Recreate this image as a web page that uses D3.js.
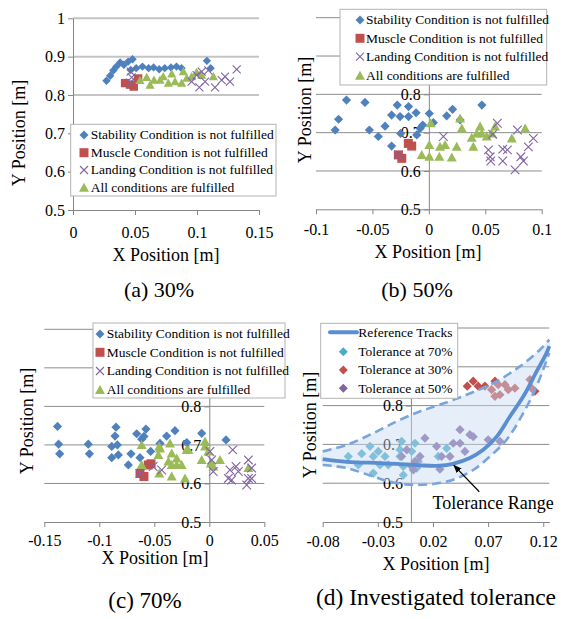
<!DOCTYPE html>
<html>
<head>
<meta charset="utf-8">
<script src="https://cdn.jsdelivr.net/npm/d3@7"></script>
<style>
body{margin:0;background:#fff}
svg{display:block}
svg text{font-family:"Liberation Serif","Times New Roman",serif}
</style>
</head>
<body>
<svg id="fig" width="565" height="619"></svg>
<script>
// ---- data ----
var yTicks=[0.5,0.6,0.7,0.8,0.9,1]
var yTickLabels=["0.5","0.6","0.7","0.8","0.9","1"]
var aTicks=[0,0.05,0.1,0.15], aTickLabels=["0","0.05","0.1","0.15"]
var bTicks=[-0.1,-0.05,0,0.05,0.1], bTickLabels=["-0.1","-0.05","0","0.05","0.1"]
var cTicks=[-0.15,-0.1,-0.05,0,0.05], cTickLabels=["-0.15","-0.1","-0.05","0","0.05"]
var dTicks=[-0.08,-0.03,0.02,0.07,0.12], dTickLabels=["-0.08","-0.03","0.02","0.07","0.12"]

var condLabels=["Stability Condition is not fulfilled","Muscle Condition is not fulfilled","Landing Condition is not fulfilled","All conditions are fulfilled"]
var tolLabels=["Reference Tracks","Tolerance at 70%","Tolerance at 30%","Tolerance at 50%"]
var captions=["(a) 30%","(b) 50%","(c) 70%","(d) Investigated tolerance"]

var a30Stability=[[.027,.837],[.030,.850],[.0325,.864],[.035,.874],[.038,.885],[.041,.879],[.0445,.887],[.048,.893],[.0465,.865],[.051,.870],[.056,.874],[.061,.870],[.065,.872],[.0695,.867],[.074,.870],[.079,.872],[.0835,.874],[.0875,.870],[.108,.889],[.111,.870]]
var a30Muscle=[[.042,.831],[.046,.827],[.049,.822],[.0525,.843]]
var a30Landing=[[.0465,.861],[.0473,.846],[.046,.832],[.0957,.835],[.0997,.852],[.1019,.820],[.1038,.861],[.1065,.835],[.1091,.864],[.1145,.820],[.1199,.839],[.1226,.848],[.1266,.835],[.132,.867]]
var a30Fulfilled=[[.054,.838],[.0594,.846],[.0621,.826],[.0653,.839],[.0702,.839],[.0728,.848],[.0769,.831],[.0796,.855],[.0823,.835],[.0876,.831],[.089,.861],[.0917,.844],[.0957,.848],[.0997,.859],[.1038,.852],[.1132,.848]]

var b50Stability=[[-.083,.707],[-.080,.735],[-.073,.785],[-.0566,.779],[-.0527,.707],[-.0448,.690],[-.0388,.717],[-.033,.746],[-.033,.665],[-.028,.772],[-.0255,.742],[-.025,.698],[-.018,.768],[-.018,.742],[-.0113,.752],[-.0107,.694],[-.0078,.711],[-.0054,.720],[.0004,.750],[.004,.726],[.0158,.744],[.021,.761],[.0277,.733],[.047,.772]]
var b50Muscle=[[-.027,.642],[-.024,.633],[-.0182,.672],[-.0152,.665]]
var b50Landing=[[-.027,.642],[.0129,.690],[.0607,.7245],[.0566,.696],[.0528,.655],[.0543,.637],[.0549,.626],[.0655,.657],[.0696,.655],[.0655,.626],[.0785,.707],[.0882,.663],[.0815,.637],[.0838,.626],[.0764,.603],[.0926,.685]]
var b50Fulfilled=[[.0017,.7245],[-.0063,.642],[.0004,.668],[.0004,.637],[.0099,.663],[.0144,.668],[.0093,.637],[.0247,.663],[.0203,.635],[.0277,.737],[.0292,.711],[.038,.687],[.0394,.663],[.0454,.716],[.0469,.698],[.0425,.698],[.0513,.690],[.0558,.698],[.0587,.716],[.0735,.685],[.0853,.711]]

var c70Stability=[[-.138,.748],[-.137,.702],[-.136,.677],[-.110,.702],[-.109,.677],[-.0887,.667],[-.0887,.696],[-.0857,.723],[-.0848,.746],[-.0836,.700],[-.0827,.674],[-.0736,.648],[-.0712,.677],[-.066,.729],[-.0615,.715],[-.0594,.722],[-.0576,.741],[-.0533,.683],[-.063,.667],[-.0448,.704],[-.0388,.723],[-.0312,.737],[-.0205,.706],[-.0069,.730],[.0152,.713]]
var c70Muscle=[[-.063,.626],[-.0594,.618],[-.0555,.648],[-.053,.651]]
var c70Landing=[[-.063,.626],[-.051,.644],[-.0433,.635],[.0006,.683],[.0022,.661],[.0036,.631],[.0213,.687],[.0188,.635],[.0173,.613],[.0243,.644],[.0264,.631],[.0355,.661],[.0385,.640],[.0355,.613],[.0385,.613],[.034,.596],[.0203,.609]]
var c70Fulfilled=[[-.0615,.700],[-.0615,.648],[-.0455,.626],[-.0455,.696],[-.0448,.691],[-.0463,.674],[-.0342,.678],[-.0357,.704],[-.0372,.657],[-.0296,.665],[-.0342,.648],[-.0342,.618],[-.0297,.648],[-.0221,.613],[-.019,.687],[-.0251,.648],[-.0039,.709],[-.0009,.683],[-.0069,.661],[.0036,.644],[.0013,.652],[.0097,.661],[.0355,.640],[-.0206,.687],[-.0039,.696]]

var dTrack=[[-.08,.662],[-.058,.655],[-.028,.652],[-.013,.650],[.008,.646],[.026,.645],[.038,.650],[.0535,.665],[.0656,.686],[.0778,.720],[.0898,.772],[.102,.824],[.114,.888],[.1231,.936],[.1255,.953]]
var dUpper=[[-.08,.682],[-.058,.699],[-.034,.729],[-.013,.759],[.008,.785],[.026,.802],[.0505,.828],[.0747,.858],[.0989,.901],[.117,.944],[.1231,.962],[.1255,.97]]
var dLower=[[-.08,.647],[-.058,.639],[-.034,.617],[-.016,.602],[.002,.596],[.0203,.598],[.0384,.609],[.0565,.634],[.0717,.669],[.0868,.712],[.102,.781],[.114,.850],[.1255,.936]]
var dTol70=[[-.0568,.669],[-.0477,.647],[-.0446,.676],[-.0371,.695],[-.0341,.669],[-.0296,.682],[-.028,.647],[-.0341,.626],[-.0235,.669],[-.0205,.647],[-.0099,.686],[-.0084,.708],[-.0099,.669],[-.0069,.643],[-.0069,.621],[.0007,.682],[.0037,.703],[.0067,.656],[.0052,.639],[.0248,.669],[.0324,.690]]
var dTol30=[[.0511,.850],[.0565,.863],[.061,.850],[.0671,.850],[.0732,.841],[.0762,.863],[.0807,.828],[.0792,.854],[.0853,.854],[.0883,.841],[.0943,.845],[.0762,.824],[.108,.867],[.1095,.845],[.1125,.837]]
var dTol50=[[-.0084,.669],[-.0038,.686],[.0007,.643],[.0022,.634],[.0037,.656],[.0082,.669],[.0127,.716],[.0233,.695],[.0278,.669],[.0263,.636],[.0354,.669],[.0384,.703],[.0445,.703],[.0445,.738],[.049,.682],[.0535,.725],[.0565,.720],[.0701,.712],[.0807,.708]]
var dArrow=[[.062,.578],[.039,.646]]
var dArrowText=[.0745,.534]

// ---- drawing ----
var BLUE="#4f81bd",RED="#c0504d",PURPLE="#8064a2",GREEN="#9bbb59",CYAN="#4bacc6",TRACK="#5a8ed0"
var svg=d3.select("#fig")
svg.append("defs").append("marker").attr("id","arr")
  .attr("viewBox","0 0 10 10").attr("refX",9).attr("refY",5)
  .attr("markerWidth",7).attr("markerHeight",7).attr("orient","auto")
  .append("path").attr("d","M0,1L10,5L0,9Z").attr("fill","#000")

function shape(type,r){
  if(type=="diamond") return `M0,${-r}L${r},0L0,${r}L${-r},0Z`
  if(type=="square") return `M${-r},${-r}h${2*r}v${2*r}h${-2*r}Z`
  if(type=="triangle") return `M0,${-r}L${r},${r*0.8}L${-r},${r*0.8}Z`
  return `M${-r},${-r}L${r},${r}M${-r},${r}L${r},${-r}`
}

function points(g,p,data,type,color,r){
  g.selectAll(null).data(data).enter().append("path")
   .attr("d",shape(type,r))
   .attr("transform",d=>`translate(${p.x(d[0])},${p.y(d[1])})`)
   .attr("fill",type=="x"?"none":color)
   .attr("stroke",type=="x"?color:"none")
   .attr("stroke-width",1.1)
}

function panel(cfg){
  var x=d3.scaleLinear().domain(cfg.xDomain).range(cfg.xRange)
  var y=d3.scaleLinear().domain([0.5,1]).range(cfg.yRange)
  var g=svg.append("g")
  g.selectAll(".grid").data(yTicks.slice(1)).enter().append("line")
   .attr("x1",cfg.xRange[0]).attr("x2",cfg.xRange[1])
   .attr("y1",d=>y(d)).attr("y2",d=>y(d))
   .attr("stroke",cfg.gridColor).attr("stroke-width",cfg.gridWidth)
  var xa=g.append("g").attr("transform",`translate(0,${y(0.5)})`)
   .call(d3.axisBottom(x).tickValues(cfg.xTicks).tickFormat((d,i)=>cfg.xLabels[i])
         .tickSize(5).tickSizeOuter(0).tickPadding(cfg.xPad))
  // labels hidden behind the legend in the original are left blank
  var ya=g.append("g").attr("transform",`translate(${x(0)},0)`)
   .call(d3.axisLeft(y).tickValues(yTicks).tickFormat((d,i)=>d<=cfg.yLabelMax?yTickLabels[i]:"")
         .tickSize(5).tickSizeOuter(0).tickPadding(3))
  ;[xa,ya].forEach(a=>{
    a.attr("font-size",16).attr("color","#868686")
    a.selectAll("text").attr("fill","#000")
  })
  g.append("text").attr("x",cfg.xTitle[0]).attr("y",cfg.xTitle[1])
   .attr("text-anchor","middle").attr("font-size",18)
   .text("X Position [m]")
  g.append("text").attr("transform",`translate(${cfg.yTitle[0]},${cfg.yTitle[1]}) rotate(-90)`)
   .attr("dy","0.35em").attr("text-anchor","middle").attr("font-size",18)
   .text("Y Position [m]")
  g.append("text").attr("x",cfg.caption[0]).attr("y",cfg.caption[1])
   .attr("text-anchor","middle").attr("font-size",cfg.captionSize)
   .text(cfg.captionText)
  return {g:g,x:x,y:y}
}

function legendBox(g,box,rows,labels,mx,tx,items){
  g.append("rect").attr("x",box[0]).attr("y",box[1]).attr("width",box[2]-box[0]).attr("height",box[3]-box[1])
   .attr("fill","#fff").attr("stroke","#b3b3b3").attr("stroke-width",1)
  labels.forEach((l,i)=>{
    var it=items[i]
    if(it.type=="line"){
      g.append("line").attr("x1",it.x1).attr("x2",it.x2).attr("y1",rows[i]).attr("y2",rows[i])
       .attr("stroke",it.color).attr("stroke-width",4).attr("stroke-linecap","round")
    }else{
      g.append("path").attr("d",shape(it.type,it.r)).attr("transform",`translate(${mx},${rows[i]})`)
       .attr("fill",it.type=="x"?"none":it.color).attr("stroke",it.type=="x"?it.color:"none").attr("stroke-width",1.1)
    }
    g.append("text").attr("x",tx).attr("y",rows[i]).attr("dy","0.33em")
     .attr("font-size",13.5).text(l)
  })
}

var condItems=[{type:"diamond",color:BLUE,r:4.5},{type:"square",color:RED,r:4.5},{type:"x",color:PURPLE,r:4},{type:"triangle",color:GREEN,r:5}]

// (a)
var pa=panel({xDomain:[0,0.15],xRange:[73,259],yRange:[210,18.3],xTicks:aTicks,xLabels:aTickLabels,xPad:12,yLabelMax:1,
  gridColor:"#c4c4c4",gridWidth:2,xTitle:[166,261],yTitle:[19,133],caption:[159,297],captionSize:22,captionText:captions[0]})
points(pa.g,pa,a30Stability,"diamond",BLUE,4.2)
points(pa.g,pa,a30Muscle,"square",RED,4.2)
points(pa.g,pa,a30Fulfilled,"triangle",GREEN,4.6)
points(pa.g,pa,a30Landing,"x",PURPLE,4)
legendBox(pa.g,[70.7,124.3,276,196],[135,152.7,170,187.7],condLabels,84,90.7,condItems)

// (b)
var pb=panel({xDomain:[-0.1,0.1],xRange:[316,541.7],yRange:[209.3,17.7],xTicks:bTicks,xLabels:bTickLabels,xPad:9,yLabelMax:0.8,
  gridColor:"#8c8c8c",gridWidth:1,xTitle:[428,258],yTitle:[305,110],caption:[417,297],captionSize:22,captionText:captions[1]})
points(pb.g,pb,b50Stability,"diamond",BLUE,4.6)
points(pb.g,pb,b50Muscle,"square",RED,4.5)
points(pb.g,pb,b50Fulfilled,"triangle",GREEN,5)
points(pb.g,pb,b50Landing,"x",PURPLE,4.3)
legendBox(pb.g,[340,9.3,546.7,85],[20,38.3,56.7,75.7],condLabels,360,366,condItems)

// (c)
var pc=panel({xDomain:[-0.15,0.05],xRange:[44.3,264.3],yRange:[522,329.3],xTicks:cTicks,xLabels:cTickLabels,xPad:8,yLabelMax:0.8,
  gridColor:"#8c8c8c",gridWidth:1,xTitle:[155,564],yTitle:[27,421],caption:[145,608],captionSize:23,captionText:captions[2]})
points(pc.g,pc,c70Stability,"diamond",BLUE,4.6)
points(pc.g,pc,c70Muscle,"square",RED,4.5)
points(pc.g,pc,c70Fulfilled,"triangle",GREEN,5)
points(pc.g,pc,c70Landing,"x",PURPLE,4.3)
legendBox(pc.g,[93,323,285,398],[334,352.3,371,390],condLabels,100,106.7,condItems)

// (d)
var pd=panel({xDomain:[-0.08,0.1255],xRange:[322.7,549.3],yRange:[522,328],xTicks:dTicks,xLabels:dTickLabels,xPad:9,yLabelMax:0.8,
  gridColor:"#8c8c8c",gridWidth:1,xTitle:[436,570],yTitle:[310,425],caption:[436,605],captionSize:23.5,captionText:captions[3]})
points(pd.g,pd,dTol30,"diamond",RED,4.6)
points(pd.g,pd,dTol70,"diamond",CYAN,4.6)
points(pd.g,pd,dTol50,"diamond",PURPLE,4.6)
var curve=d3.line().x(d=>pd.x(d[0])).y(d=>pd.y(d[1])).curve(d3.curveCatmullRom)
var areaPts=dUpper.concat(dLower.slice().reverse())
pd.g.append("path").attr("d",d3.line().x(d=>pd.x(d[0])).y(d=>pd.y(d[1])).curve(d3.curveCatmullRomClosed)(areaPts))
 .attr("fill","#c6d9f1").attr("fill-opacity",0.45)
;[dUpper,dLower].forEach(s=>{
  pd.g.append("path").attr("d",curve(s)).attr("fill","none").attr("stroke","#79a5dc")
   .attr("stroke-width",2.6).attr("stroke-dasharray","9,5")
})
pd.g.append("path").attr("d",curve(dTrack)).attr("fill","none").attr("stroke",TRACK).attr("stroke-width",3.8)
pd.g.append("line").attr("x1",pd.x(dArrow[0][0])).attr("y1",pd.y(dArrow[0][1]))
 .attr("x2",pd.x(dArrow[1][0])).attr("y2",pd.y(dArrow[1][1]))
 .attr("stroke","#000").attr("stroke-width",1.2).attr("marker-end","url(#arr)")
pd.g.append("text").attr("x",pd.x(dArrowText[0])).attr("y",pd.y(dArrowText[1]))
 .attr("text-anchor","middle").attr("font-size",18).text("Tolerance Range")
legendBox(pd.g,[320.7,323.3,457.7,398.3],[332.3,351.7,370,388.3],tolLabels,343.3,358.3,
  [{type:"line",color:TRACK,x1:330,x2:357},{type:"diamond",color:CYAN,r:4.5},{type:"diamond",color:RED,r:4.5},{type:"diamond",color:PURPLE,r:4.5}])
</script>
</body>
</html>
